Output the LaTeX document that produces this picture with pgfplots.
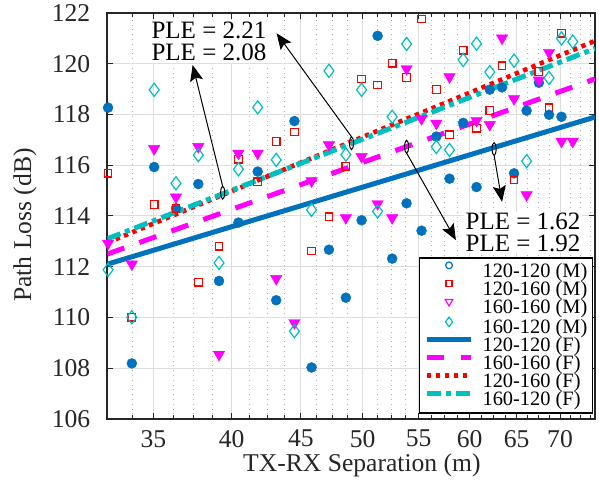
\documentclass[border=0pt]{standalone}
\usepackage{fontspec}
\setmainfont{Liberation Serif}
\usepackage{pgfplots}
\pgfplotsset{compat=1.18}
\usetikzlibrary{arrows.meta}
\definecolor{mblue}{HTML}{0072BD}
\definecolor{mred}{HTML}{FF0000}
\definecolor{mmag}{HTML}{FF00FF}
\definecolor{mcyan}{HTML}{00BFBF}
\definecolor{axgray}{HTML}{262626}
\pgfplotsset{
  mleg/.style={legend image code/.code={\draw[##1] plot coordinates {(11pt,3.3pt)};}},
  lleg/.style={legend image code/.code={\draw[##1] (0pt,3.3pt) -- (22pt,3.3pt);}},
}
\newcommand\annfont{\fontsize{12.5}{11.2}\selectfont}

% measured points (M)
\pgfplotstableread{
x y
32.40 118.27
33.74 108.19
35.05 115.93
36.38 114.30
37.79 115.26
39.15 111.44
40.46 113.74
41.81 115.75
43.15 110.68
44.51 117.74
45.83 108.03
47.21 112.67
48.59 110.78
49.91 113.83
51.29 121.10
52.58 112.32
53.89 114.50
55.28 113.42
56.69 117.13
57.98 115.47
59.34 117.67
60.71 115.14
62.10 118.98
63.41 119.07
64.72 115.68
66.12 118.15
67.52 119.25
68.70 117.99
70.17 117.91
}\bluepts
\pgfplotstableread{
x y
32.40 115.69
33.74 110.01
35.05 114.46
36.38 114.30
37.79 111.39
39.15 112.81
40.46 116.24
41.81 115.35
43.15 116.93
44.51 117.31
45.83 112.62
47.21 113.97
48.59 115.96
49.91 119.40
51.29 119.16
52.58 120.02
53.89 119.45
55.28 121.76
56.69 118.99
57.98 117.20
59.34 120.53
60.71 117.46
62.10 118.15
63.41 119.92
64.72 115.42
67.52 119.69
68.70 118.26
70.17 121.20
}\redpts
\pgfplotstableread{
x y
32.40 112.92
33.74 112.10
35.05 116.65
36.38 114.74
37.79 116.73
39.15 108.54
40.46 116.47
41.81 116.47
43.15 111.53
44.51 109.79
45.83 115.38
47.21 116.80
48.59 113.93
49.91 116.34
51.29 114.48
52.58 113.93
53.89 119.80
55.28 117.83
56.69 117.65
57.98 119.48
60.71 117.76
62.10 117.60
63.41 121.01
64.72 118.62
66.12 114.83
67.52 119.35
68.70 120.44
70.17 116.94
71.53 116.94
}\magpts
\pgfplotstableread{
x y
32.40 111.88
33.74 110.01
35.05 118.97
36.38 115.29
37.79 116.40
39.15 112.15
40.46 115.84
41.81 118.28
43.15 116.21
44.51 109.46
45.83 114.24
47.21 119.72
48.59 116.42
49.91 118.97
51.29 114.18
52.58 117.91
53.89 120.78
56.69 116.72
57.98 116.60
59.34 120.15
60.71 120.79
62.10 119.67
64.72 120.12
66.12 116.16
68.70 119.44
70.17 121.00
71.53 120.87
}\cyanpts

\begin{document}
\begin{tikzpicture}
\begin{axis}[
  name=ax,
  scale only axis,
  width=243.85pt, height=203pt,
  xmode=log,
  xmin=32.36, xmax=74.3,
  ymin=106, ymax=122,
  xtick={35,40,45,50,55,60,65,70},
  xticklabels={35,40,45,50,55,60,65,70},
  minor xtick={33.75,36.25,37.5,38.75,41.25,42.5,43.75,46.25,47.5,48.75,51.25,52.5,53.75,56.25,57.5,58.75,61.25,62.5,63.75,66.25,67.5,68.75,71.25,72.5,73.75},
  ytick={106,108,...,122},
  tick align=inside,
  major tick length=3pt, minor tick length=1.8pt,
  tick style={draw=axgray, line width=0.5pt},
  axis line style={draw=axgray, line width=0.9pt},
  xmajorgrids, xminorgrids, ymajorgrids,
  major grid style={draw=black!13, line width=0.5pt},
  minor grid style={draw=black!30, dotted, line width=0.5pt},
  tick label style={font=\fontsize{12.8}{14}\selectfont, text=axgray},
  /pgf/number format/assume math mode=true,
  yticklabel style={xshift=-5pt},
  xticklabel style={yshift=-2pt},
  xlabel={TX-RX Separation (m)},
  ylabel={Path Loss (dB)},
  label style={font=\fontsize{12.8}{14}\selectfont, text=axgray},
  xlabel style={at={(axis description cs:0.522,-0.1133)}, anchor=center},
  ylabel style={at={(axis description cs:-0.1688,0.478)}, anchor=center},
  legend cell align=left,
  legend style={at={(rel axis cs:0.9965,0.0123)}, anchor=south east,
    draw=black, line width=0.75pt, fill=white,
    font=\fontsize{10.2}{10}\selectfont,
    inner xsep=2.6pt, inner ysep=2pt, column sep=4.5pt, row sep=0pt,
    nodes={inner sep=0pt, text height=7.1pt, text depth=1.8pt}},
]
\addlegendimage{only marks, mark=o, mblue, mark size=1.7pt, line width=0.6pt, mleg}
\addlegendimage{only marks, mark=square, mred, mark size=1.5pt, line width=0.6pt, mleg}
\addlegendimage{only marks, mark=triangle, mmag, mark size=2.2pt, line width=0.6pt, mark options={rotate=180}, mleg}
\addlegendimage{only marks, mark=diamond, mcyan, mark size=2.4pt, line width=0.6pt, mleg}
\addlegendimage{mblue, line width=2.5pt, lleg}
\addlegendimage{mmag, line width=2.5pt, dash pattern=on 8.5pt off 8.5pt, lleg}
\addlegendimage{mred, line width=2.3pt, dash pattern=on 2.2pt off 2.3pt, lleg}
\addlegendimage{mcyan, line width=2.5pt, dash pattern=on 7pt off 2.5pt on 2.5pt off 2.5pt, lleg}
\legend{120-120 (M), 120-160 (M), 160-160 (M), 160-120 (M), 120-120 (F), 160-160 (F), 120-160 (F), 160-120 (F)}

% measurements
\addplot[forget plot, only marks, mark=*, mark size=2.5pt, mark options={draw=mblue, fill=mblue, line width=0.2pt}] table {\bluepts};
\addplot[forget plot, only marks, mark=square, mark size=1.9pt, mark options={draw=mred, line width=0.6pt}] table {\redpts};
\addplot[forget plot, only marks, mark=triangle*, mark size=3.3pt, mark options={draw=mmag, fill=mmag, rotate=180, line width=0.2pt}] table {\magpts};
\addplot[forget plot, only marks, mark=diamond, mark size=3.3pt, mark options={draw=mcyan, line width=0.6pt}] table {\cyanpts};

% fitted lines (F)
\addplot[forget plot, mblue, line width=2.5pt] coordinates {(32.36,112.10) (74.3,117.90)};
\addplot[forget plot, mmag, line width=2.5pt, dash pattern=on 9pt off 8pt] coordinates {(32.36,112.50) (74.3,119.40)};
\addplot[forget plot, mred, line width=2.3pt, dash pattern=on 2.2pt off 2.3pt] coordinates {(32.36,112.95) (74.3,120.90)};
\addplot[forget plot, mcyan, line width=2.5pt, dash pattern=on 7pt off 2.5pt on 2.5pt off 2.5pt] coordinates {(32.36,113.10) (74.3,120.60)};

% annotations
\node[anchor=west, fill=white, align=left, inner xsep=1pt, inner ysep=1pt, font=\annfont] at (axis cs:34.75,120.88) {PLE = 2.21\\PLE = 2.08};
\node[anchor=west, fill=white, align=left, inner xsep=1pt, inner ysep=0.5pt, font=\annfont] at (axis cs:59.35,113.36) {PLE = 1.62\\PLE = 1.92};

\draw[black, line width=0.5pt] (axis cs:49.06,116.87) ellipse [x radius=1pt, y radius=3.2pt];
\draw[black, line width=0.5pt] (axis cs:39.39,114.92) ellipse [x radius=1pt, y radius=3.2pt];
\draw[black, line width=0.5pt] (axis cs:53.89,116.73) ellipse [x radius=1pt, y radius=3.2pt];
\draw[black, line width=0.5pt] (axis cs:62.56,116.64) ellipse [x radius=1pt, y radius=3.2pt];
\draw[black, line width=0.5pt, -{Stealth[length=8pt, width=6.5pt, inset=1.5pt]}] ([yshift=3.2pt]axis cs:49.06,116.87) -- (axis cs:43.18,121.2);
\draw[black, line width=0.5pt, -{Stealth[length=8pt, width=6.5pt, inset=1.5pt]}] ([yshift=3.2pt]axis cs:39.39,114.92) -- (axis cs:37.43,119.95);
\draw[black, line width=0.5pt, -{Stealth[length=8pt, width=6.5pt, inset=1.5pt]}] ([yshift=-3.2pt]axis cs:53.89,116.73) -- (axis cs:58.61,113.05);
\draw[black, line width=0.5pt, -{Stealth[length=8pt, width=6.5pt, inset=1.5pt]}] ([yshift=-3.2pt]axis cs:62.56,116.64) -- (axis cs:63.41,114.56);
\end{axis}
\pgfresetboundingbox
\path ([shift={(-53.65pt,-35pt)}]ax.south west) rectangle ([shift={(2pt,6.5pt)}]ax.north east);
\end{tikzpicture}
\end{document}
